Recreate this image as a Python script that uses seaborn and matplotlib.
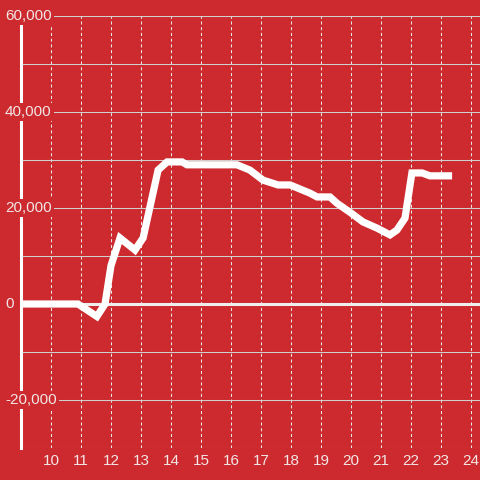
import matplotlib
matplotlib.use('Agg')
import matplotlib.pyplot as plt
import matplotlib.transforms as mtransforms
import pandas as pd
import seaborn as sns

# values
hours = [9.0, 10.9, 11.53, 11.8, 12.0, 12.3, 12.8, 13.07, 13.57, 13.87, 14.37,
         14.53, 16.2, 16.63, 17.07, 17.57, 17.97, 18.63, 18.87, 19.3, 19.53,
         19.97, 20.4, 20.87, 21.3, 21.53, 21.8, 22.03, 22.37, 22.63, 23.37]
values = [0, 0, -2600, 0, 8000, 13750, 11250, 13750, 27900, 29600, 29600,
          29000, 29000, 27900, 25800, 24800, 24800, 23100, 22300, 22300, 21000,
          19100, 17100, 15800, 14400, 15400, 17900, 27300, 27300, 26700, 26700]
x_ticks = list(range(10, 25))
y_grid = list(range(-30000, 60001, 10000))
y_labels = {-20000: "-20,000", 0: "0", 20000: "20,000",
            40000: "40,000", 60000: "60,000"}

BG = "#cc2a2e"
TXT = "#f2e6e6"

sns.set_theme(style="white")
plt.rcParams['font.family'] = ['Liberation Sans', 'DejaVu Sans']

fig = plt.figure(figsize=(4.8, 4.8), dpi=100, facecolor=BG)
ax = fig.add_axes([21 / 480, 32 / 480, 459 / 480, 432 / 480])
ax.set_facecolor(BG)

df = pd.DataFrame({"hour": hours, "value": values})
sns.lineplot(data=df, x="hour", y="value", ax=ax, color="white", lw=5.2,
             sort=False, estimator=None, zorder=4)
ax.lines[0].set_solid_joinstyle('miter')
ax.lines[0].set_solid_capstyle('butt')

ax.set_xlim(9, 24.3)
ax.set_ylim(-30000, 60000)
ax.set_xlabel("")
ax.set_ylabel("")

# horizontal solid grid + dotted vertical grid
ax.set_yticks(y_grid)
ax.set_xticks(x_ticks)
ax.grid(axis='y', color="#cfcfcf", lw=0.75, ls='-')
ax.grid(axis='x', color="#e6e6e6", lw=0.75, ls=(0, (3, 2.5)))
ax.tick_params(left=False, labelleft=False, bottom=False, length=0, pad=4,
               labelsize=11, labelcolor=TXT)
ax.axhline(0, color="#eeeeee", lw=2.2, zorder=3)

for s in ['top', 'right', 'bottom']:
    ax.spines[s].set_visible(False)
ax.spines['left'].set_color("white")
ax.spines['left'].set_linewidth(2.2)
ax.spines['left'].set_zorder(3)

# y labels sit over the spine with a background box
trans = mtransforms.blended_transform_factory(fig.transFigure, ax.transData)
for v, lab in y_labels.items():
    ax.text(5 / 480, v, lab, transform=trans, ha='left', va='center',
            fontsize=11, color=TXT, clip_on=False, zorder=6,
            bbox=dict(boxstyle='square,pad=0.15', fc=BG, ec='none'))

fig.savefig("out.png", dpi=100, facecolor=BG)
